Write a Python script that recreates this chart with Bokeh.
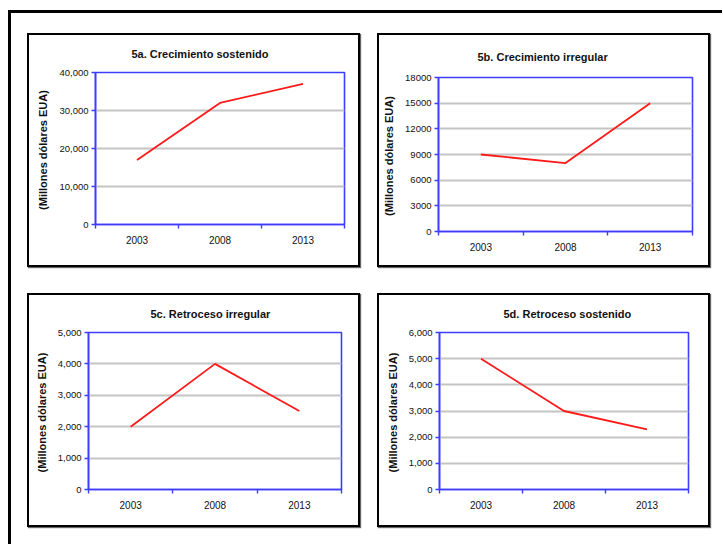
from bokeh.plotting import figure
from bokeh.layouts import row, column
from bokeh.models import Range1d, FixedTicker, NumeralTickFormatter, ColumnDataSource
from bokeh.embed import file_html
from bokeh.resources import INLINE

# ---- data ----
years = ["2003", "2008", "2013"]

title_a = "5a. Crecimiento sostenido"
values_a = [17000, 32000, 37000]
yticks_a = [0, 10000, 20000, 30000, 40000]

title_b = "5b. Crecimiento irregular"
values_b = [9000, 8000, 15000]
yticks_b = [0, 3000, 6000, 9000, 12000, 15000, 18000]

title_c = "5c. Retroceso irregular"
values_c = [2000, 4000, 2500]
yticks_c = [0, 1000, 2000, 3000, 4000, 5000]

title_d = "5d. Retroceso sostenido"
values_d = [5000, 3000, 2300]
yticks_d = [0, 1000, 2000, 3000, 4000, 5000, 6000]

y_label = "(Millones  dólares EUA)"

BLUE = "#3d3dff"
RED = "#ff1a1a"
GRID = "#c4c4c4"
FONT = "Liberation Sans"
TEXT = "#111111"
W, H = 329, 230


def make(title, values, yticks, fmt, borders, title_offset, title_standoff):
    left, right, top, bottom = borders
    p = figure(width=W, height=H, output_backend="svg", toolbar_location=None,
               x_range=Range1d(0, len(years)), y_range=Range1d(yticks[0], yticks[-1]),
               min_border_left=left, min_border_right=right,
               min_border_top=top, min_border_bottom=bottom,
               styles={"box-shadow": "0 0 0 2px #000000, 1px 1px 1px 2px #666666"})
    xs = [i + 0.5 for i in range(len(years))]
    src = ColumnDataSource(dict(x=xs, y=values))
    p.line("x", "y", source=src, line_color=RED, line_width=1.8)

    p.title.text = title
    p.title.align = "left"
    p.title.vertical_align = "top"
    p.title.offset = title_offset
    p.title.standoff = title_standoff
    p.title.text_font = FONT
    p.title.text_font_size = "11px"
    p.title.text_font_style = "bold"
    p.title.text_color = TEXT

    p.outline_line_color = BLUE
    p.outline_line_width = 1.6
    p.outline_line_alpha = 1.0

    p.xgrid.visible = False
    p.ygrid.grid_line_color = GRID
    p.ygrid.grid_line_width = 1.8
    p.ygrid.ticker = FixedTicker(ticks=yticks)

    xa = p.below[0]
    xa.ticker = FixedTicker(ticks=xs, minor_ticks=list(range(len(years) + 1)))
    xa.major_label_overrides = {x: y for x, y in zip(xs, years)}
    xa.axis_line_color = BLUE
    xa.axis_line_width = 1.6
    xa.major_tick_out = 0
    xa.major_tick_in = 0
    xa.minor_tick_out = 4
    xa.minor_tick_in = 0
    xa.minor_tick_line_color = BLUE
    xa.minor_tick_line_width = 1.4
    xa.major_label_standoff = 7
    xa.major_label_text_font = FONT
    xa.major_label_text_font_size = "10px"
    xa.major_label_text_color = TEXT

    ya = p.left[0]
    ya.ticker = FixedTicker(ticks=yticks)
    ya.formatter = NumeralTickFormatter(format=fmt)
    ya.axis_line_color = BLUE
    ya.axis_line_width = 1.6
    ya.major_tick_out = 4
    ya.major_tick_in = 0
    ya.major_tick_line_color = BLUE
    ya.major_tick_line_width = 1.4
    ya.minor_tick_out = 0
    ya.minor_tick_in = 0
    ya.major_label_standoff = 3
    ya.major_label_text_font = FONT
    ya.major_label_text_font_size = "9.5px"
    ya.major_label_text_color = TEXT
    ya.axis_label = y_label
    ya.axis_label_text_font = FONT
    ya.axis_label_text_font_style = "bold"
    ya.axis_label_text_font_size = "11px"
    ya.axis_label_text_color = TEXT
    ya.axis_label_standoff = 7
    return p


pa = make(title_a, values_a, yticks_a, "0,0", (66, 14, 37, 41), 36, 22)
pb = make(title_b, values_b, yticks_b, "0", (59, 16, 42, 34), 39, 26)
pc = make(title_c, values_c, yticks_c, "0,0", (59, 17, 37, 36), 62, 22)
pd = make(title_d, values_d, yticks_d, "0,0", (60, 20, 37, 36), 64, 22)

root = column(
    row(column(pa), column(pb), spacing=21),
    row(column(pc), column(pd), spacing=21),
    spacing=30,
    width=714, height=534,
    styles={"border-left": "3px solid black", "border-top": "3px solid black",
            "padding-left": "18px", "padding-top": "22px",
            "margin-left": "8px", "margin-top": "10px",
            "box-sizing": "border-box"},
)

open("out.html", "w").write(file_html(root, INLINE))
